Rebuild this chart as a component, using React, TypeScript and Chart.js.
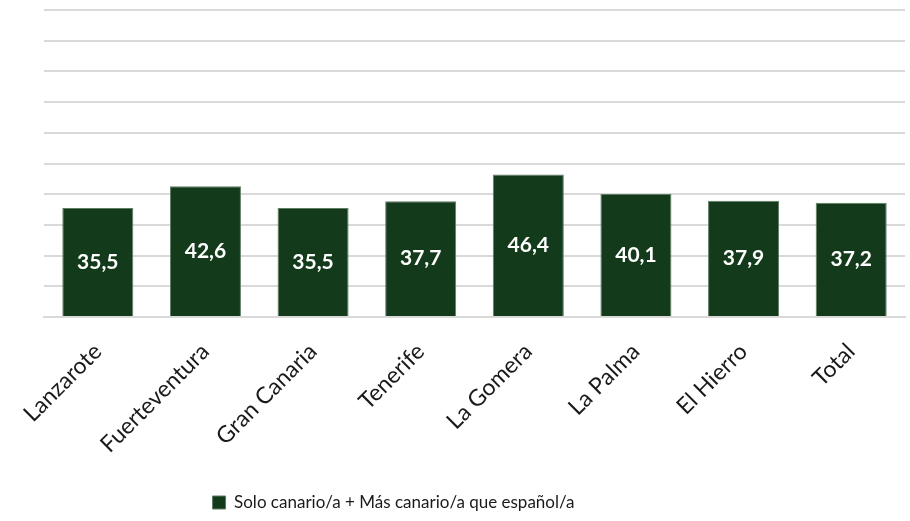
import React, { useEffect, useRef } from 'react';
import { Chart, registerables } from 'chart.js';

Chart.register(...registerables);

const categories = ['Lanzarote', 'Fuerteventura', 'Gran Canaria', 'Tenerife', 'La Gomera', 'La Palma', 'El Hierro', 'Total'];
const values = [35.5, 42.6, 35.5, 37.7, 46.4, 40.1, 37.9, 37.2];
const seriesLabel = 'Solo canario/a + Más canario/a que español/a';
const yMin = 0;
const yMax = 100;
const yStep = 10;

const FONT = 'Lato';
const BAR_COLOR = '#133a1a';

const valueLabels = {
  id: 'valueLabels',
  afterDatasetsDraw(chart: any) {
    const ctx = chart.ctx;
    const meta = chart.getDatasetMeta(0);
    ctx.save();
    ctx.font = `bold 21px ${FONT}`;
    ctx.fillStyle = '#ffffff';
    ctx.textAlign = 'center';
    ctx.textBaseline = 'middle';
    meta.data.forEach((bar: any, i: number) => {
      const { x, y, base } = bar.getProps(['x', 'y', 'base'], true);
      ctx.fillText(values[i].toFixed(1).replace('.', ','), x, (y + base) / 2);
    });
    ctx.restore();
  },
};

const legendShift = {
  id: 'legendShift',
  afterLayout(chart: any) {
    const l = chart.legend;
    if (l) {
      const shift = -81;
      l.left += shift;
      l.right += shift;
    }
  },
};

export default function App() {
  const ref = useRef<HTMLCanvasElement | null>(null);
  useEffect(() => {
    if (!ref.current) return;
    const chart = new Chart(ref.current, {
      type: 'bar',
      data: {
        labels: categories,
        datasets: [
          {
            label: seriesLabel,
            data: values,
            backgroundColor: BAR_COLOR,
            borderColor: '#5f7d63',
            borderWidth: 1,
            categoryPercentage: 1,
            barPercentage: 0.66,
          },
        ],
      },
      options: {
        animation: false,
        responsive: false,
        maintainAspectRatio: false,
        layout: { padding: { left: 44, right: 5, top: 10, bottom: 0 } },
        plugins: {
          tooltip: { enabled: false },
          legend: {
            position: 'bottom',
            labels: {
              boxWidth: 13,
              boxHeight: 13,
              padding: 6,
              color: '#1a1a1a',
              font: { family: FONT, size: 17 },
            },
          },
        },
        scales: {
          x: {
            grid: { display: false, drawTicks: false },
            border: { display: true, color: '#d9d9d9', width: 2 },
            ticks: {
              maxRotation: 45,
              minRotation: 45,
              padding: 21,
              color: '#1a1a1a',
              font: { family: FONT, size: 23 },
            },
            afterFit(scale: any) {
              scale.height = 171;
            },
          },
          y: {
            min: yMin,
            max: yMax,
            ticks: { display: false, stepSize: yStep },
            grid: { color: '#d9d9d9', lineWidth: 2, drawTicks: false },
            border: { display: false },
            afterFit(scale: any) {
              scale.width = 0;
            },
          },
        },
      },
      plugins: [valueLabels, legendShift],
    });
    return () => chart.destroy();
  }, []);
  return (
    <div style={{ position: 'fixed', left: 0, top: 0, width: 910, height: 521, background: '#fff' }}>
      <canvas ref={ref} width={910} height={521} style={{ width: 910, height: 521 }} />
    </div>
  );
}
